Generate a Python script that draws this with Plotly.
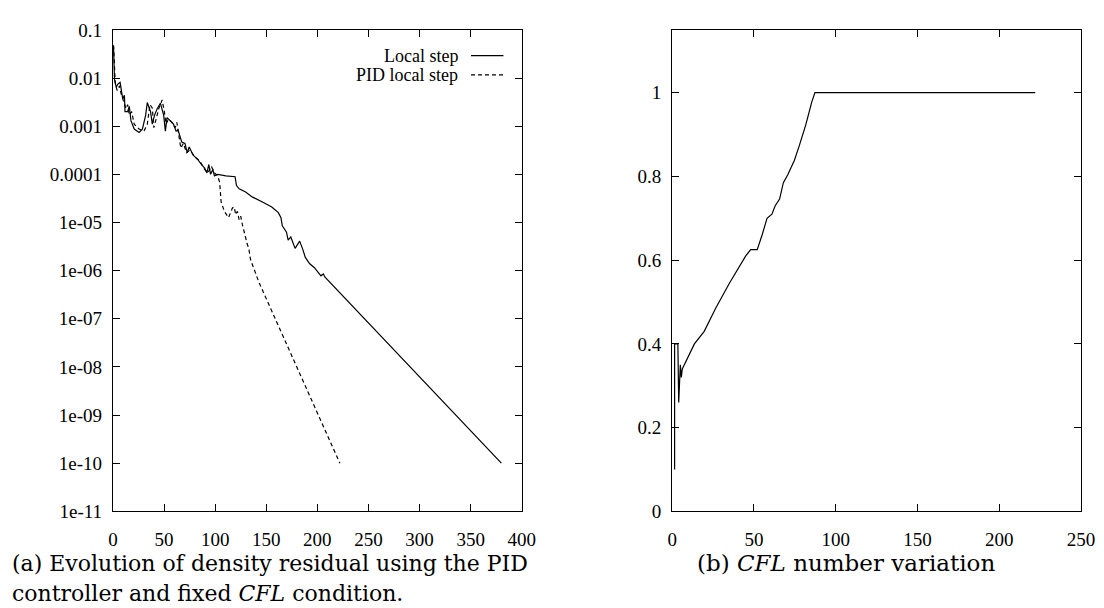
import plotly.graph_objects as go

# (a) density residual, two runs
local_it = [0.6, 1.5, 3.2, 4.8, 7, 8.7, 9.6, 11.2, 11.8, 14.4, 16, 17.6, 20.8, 25.6, 28.8,
            32, 33.6, 36.8, 38.5, 40.7, 43.3, 46.4, 49.6, 51.3, 52.9, 56, 59.2, 61.8, 63.7,
            67.3, 70.5, 72.7, 74.6, 78.5, 83.3, 86.5, 89.7, 92, 93.8, 95.5, 97.7, 99.3, 102.5,
            110.5, 119.5, 120.8, 123.4, 129.8, 136.2, 145.8, 155.4, 161.8, 164.4, 165.7, 169.8,
            171.4, 174, 178.2, 182.7, 185.9, 188.1, 192.3, 197.1, 203.5, 205.8, 207.5, 380]
local_res = [0.044, 0.0093, 0.0064, 0.0075, 0.0081, 0.0044, 0.0037, 0.0044, 0.0020, 0.0020,
             0.0026, 0.0013, 0.00087, 0.00074, 0.00087, 0.0017, 0.0031, 0.0020, 0.0011, 0.0017,
             0.0023, 0.0030, 0.0017, 0.00079, 0.0015, 0.0013, 0.0011, 0.00079, 0.00083, 0.00047,
             0.00044, 0.00028, 0.00037, 0.00025, 0.00020, 0.00016, 0.000135, 0.000107, 0.00016,
             0.0001, 0.000126, 0.000093, 0.0001, 0.000093, 0.000089, 0.000059, 0.000050,
             0.000043, 0.000034, 0.000027, 0.000021, 0.000016, 0.0000126, 0.0000085, 0.0000063,
             0.0000043, 0.0000050, 0.0000029, 0.0000041, 0.0000027, 0.0000019, 0.0000014,
             0.00000115, 7.8e-7, 8.5e-7, 7.3e-7, 1e-10]

pid_it = [0.6, 1.5, 2.2, 4.1, 6.4, 8, 10.6, 12.8, 14.4, 16, 18.3, 20.8, 25.6, 30.4, 33.6,
          36.2, 38.5, 40, 42.6, 44.8, 48.1, 50.3, 51.9, 54.4, 57.7, 60.9, 62.5, 65, 66.4,
          68.9, 72.1, 75.3, 80.1, 84.9, 89.7, 92.9, 96.2, 99.3, 102.5, 104.4, 105.8, 109,
          113.1, 116.9, 118.6, 120.2, 121.8, 123.4, 125, 126.6, 128.2, 131.3, 132.9, 133.9,
          134.6, 142.7, 155.4, 165, 190, 222]
pid_res = [0.048, 0.017, 0.0081, 0.0055, 0.0069, 0.0047, 0.0032, 0.0023, 0.0028, 0.0017,
           0.0020, 0.0011, 0.00087, 0.00079, 0.0011, 0.0028, 0.0024, 0.00093, 0.0015, 0.0023,
           0.0035, 0.0020, 0.0011, 0.0014, 0.0012, 0.00093, 0.0012, 0.00055, 0.00035, 0.00044,
           0.00028, 0.00032, 0.00023, 0.00019, 0.000126, 0.000107, 0.000148, 0.000107,
           0.000093, 0.000068, 0.000027, 0.000017, 0.0000126, 0.000020, 0.000021, 0.0000145,
           0.000017, 0.0000115, 0.0000135, 0.0000091, 0.0000063, 0.0000036, 0.0000029,
           0.0000021, 0.0000017, 5.8e-7, 1.45e-7, 4.9e-8, 3.2e-9, 1e-10]

# (b) CFL number
cfl_it = [1.5, 1.5, 3.5, 4, 5, 5.6, 6.2, 13.6, 19.6, 26.6, 35, 45, 48, 52, 55, 58, 61, 63,
          65.7, 68, 70.7, 74.7, 77.7, 81.7, 85.3, 87.3, 222]
cfl_val = [0.1, 0.4, 0.4, 0.26, 0.35, 0.32, 0.34, 0.40, 0.43, 0.485, 0.545, 0.61, 0.625,
           0.625, 0.66, 0.70, 0.71, 0.73, 0.746, 0.785, 0.804, 0.838, 0.873, 0.923, 0.977,
           1.0, 1.0]

res_ticks = [1e-1, 1e-2, 1e-3, 1e-4, 1e-5, 1e-6, 1e-7, 1e-8, 1e-9, 1e-10, 1e-11]
res_labels = ["0.1", "0.01", "0.001", "0.0001", "1e-05", "1e-06", "1e-07", "1e-08",
              "1e-09", "1e-10", "1e-11"]

W, H = 1104, 608
tick_font = dict(family="Liberation Serif", size=19, color="black")

fig = go.Figure()
fig.add_trace(go.Scatter(x=local_it, y=local_res, mode="lines", name="Local step",
                         line=dict(color="black", width=1.2), xaxis="x", yaxis="y"))
fig.add_trace(go.Scatter(x=pid_it, y=pid_res, mode="lines", name="PID local step",
                         line=dict(color="black", width=1.2, dash="4px,3px"), xaxis="x", yaxis="y"))
fig.add_trace(go.Scatter(x=cfl_it, y=cfl_val, mode="lines", name="CFL",
                         line=dict(color="black", width=1.2), xaxis="x2", yaxis="y2"))

axis_common = dict(showline=True, linecolor="black", linewidth=1.2, mirror="ticks",
                   ticks="inside", ticklen=7, tickcolor="black", tickwidth=1,
                   showgrid=False, zeroline=False, tickfont=tick_font)

ydom = [1 - 511 / H, 1 - 12.3 / H]
fig.update_layout(
    width=W, height=H,
    margin=dict(l=0, r=0, t=0, b=0),
    paper_bgcolor="white", plot_bgcolor="white",
    showlegend=False,
    xaxis=dict(domain=[101.7 / W, 517.7 / W], range=[0, 400], tickvals=list(range(0, 401, 50)),
               ticklabelstandoff=11, anchor="y", **axis_common),
    yaxis=dict(domain=ydom, type="log", range=[-11, -1], tickvals=res_ticks,
               ticktext=res_labels, ticklabelstandoff=6, anchor="x", **axis_common),
    xaxis2=dict(domain=[670.7 / W, 1086.7 / W], range=[0, 250], tickvals=list(range(0, 251, 50)),
                ticklabelstandoff=11, anchor="y2", **axis_common),
    yaxis2=dict(domain=ydom, range=[0, 1.15], tickvals=[0, 0.2, 0.4, 0.6, 0.8, 1],
                ticktext=["0", "0.2", "0.4", "0.6", "0.8", "1"], ticklabelstandoff=6,
                anchor="x2", **axis_common),
)

# gnuplot-style key, top right of panel (a)
key_font = dict(family="Liberation Serif", size=18, color="black")
for row, (label, dash) in enumerate([("Local step", "solid"), ("PID local step", "4px,3px")]):
    yp = 1 - (39 + row * 20) / H
    fig.add_annotation(x=454 / W, y=yp, xref="paper", yref="paper", text=label,
                       showarrow=False, xanchor="right", yanchor="middle", font=key_font,
                       borderpad=0)
    fig.add_shape(type="line", xref="paper", yref="paper", x0=466 / W, x1=499 / W,
                  y0=yp, y1=yp, line=dict(color="black", width=1.2, dash=dash))

cap_font = dict(family="DejaVu Serif", size=22, color="black")
fig.add_annotation(x=-3 / W, y=1 - 565 / H, xref="paper", yref="paper",
                   text="(a) Evolution of density residual using the PID",
                   showarrow=False, xanchor="left", yanchor="middle", font=cap_font)
fig.add_annotation(x=-3 / W, y=1 - 596 / H, xref="paper", yref="paper",
                   text="controller and fixed <i>CFL</i> condition.",
                   showarrow=False, xanchor="left", yanchor="middle", font=cap_font)
fig.add_annotation(x=848 / W, y=1 - 565 / H, xref="paper", yref="paper",
                   text="(b) <i>CFL</i> number variation",
                   showarrow=False, xanchor="center", yanchor="middle",
                   font=dict(family="DejaVu Serif", size=23, color="black"))

fig.write_html("out.html")
